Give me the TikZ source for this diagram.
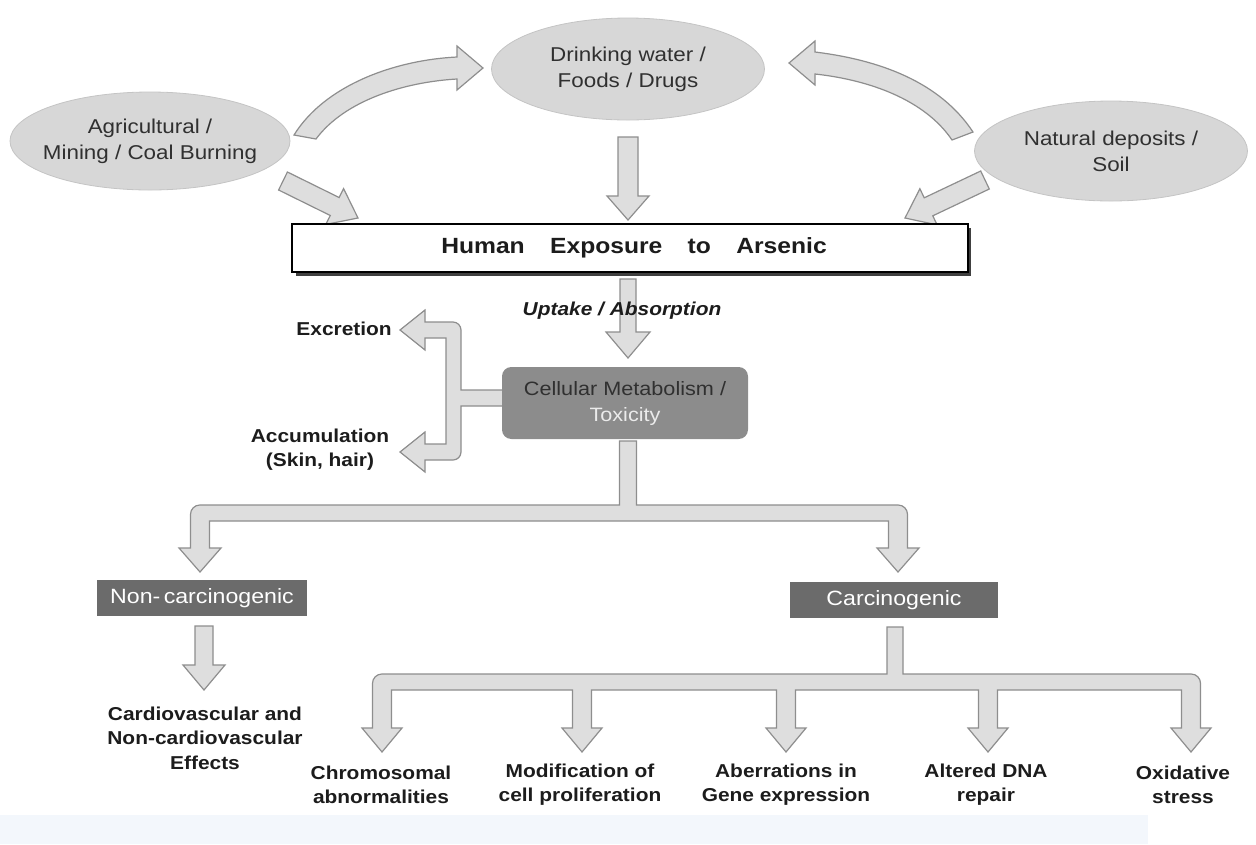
\documentclass[tikz,border=0pt]{standalone}
\usepackage{fontspec}
\setmainfont{Liberation Sans}[FakeStretch=1.12]
\usetikzlibrary{shapes.geometric}
\definecolor{ellfill}{HTML}{D7D7D7}
\definecolor{ellline}{HTML}{C4C4C4}
\definecolor{arrfill}{HTML}{DEDEDE}
\definecolor{arrline}{HTML}{8E8E8E}
\definecolor{midbox}{HTML}{8C8C8C}
\definecolor{darkbox}{HTML}{6B6B6B}
\definecolor{txt}{HTML}{1C1C1C}
\definecolor{elltxt}{HTML}{303030}
\definecolor{band}{HTML}{F3F7FC}
\begin{document}
\begin{tikzpicture}[x=0.75pt,y=-0.75pt,
  ell/.style={ellipse, fill=ellfill, draw=ellline, line width=0.6pt, inner sep=0pt},
  elltext/.style={align=center, text=elltxt, font=\fontsize{15}{19.5}\selectfont, inner sep=0pt},
  blk/.style={fill=arrfill, draw=arrline, line width=0.9pt, line join=miter},
  lbl/.style={align=center, text=txt, font=\fontsize{14}{18}\selectfont\bfseries, inner sep=0pt},
  graybox/.style={fill=darkbox, text=white, font=\fontsize{15.5}{18}\selectfont, inner sep=0pt}
]
\useasboundingbox (0,0) rectangle (1256,844);
\fill[band] (0,815) rectangle (1148,844);

% ellipses
\node[ell, minimum width=204.75pt, minimum height=76.5pt] (drink) at (628,69) {};
\node[elltext] (drinkt) at (drink.center) {Drinking water /\\Foods / Drugs};
\node[ell, minimum width=210pt, minimum height=73.5pt] (agri) at (150,141) {};
\node[elltext] (agrit) at (agri.center) {Agricultural /\\Mining / Coal Burning};
\node[ell, minimum width=204.75pt, minimum height=75pt] (natural) at (1111,151) {};
\node[elltext] (naturalt) at (natural.center) {Natural deposits /\\Soil};

% curved arrows
\path[blk] (294,135) .. controls (325,85) and (395,60) .. (457,57) -- (457,46) -- (483,68) -- (457,90) -- (457,79)
  .. controls (405,82) and (345,100) .. (316,139) -- cycle;
\path[blk] (973,132) .. controls (940,82) and (880,60) .. (815,52) -- (815,41) -- (789,63) -- (815,85) -- (815,74)
  .. controls (870,80) and (925,100) .. (952,140) -- cycle;

% diagonal arrows
\path[blk] (287.4,172.0) -- (339.1,197.5) -- (343.6,188.6) -- (358,218) -- (325.8,224.4) -- (330.3,215.5) -- (278.6,190.0) -- cycle;
\path[blk] (980.7,171.0) -- (924.2,197.8) -- (919.9,188.7) -- (905,218) -- (937.1,224.9) -- (932.8,215.8) -- (989.3,189.0) -- cycle;

% down arrow from drinking water
\path[blk] (618,137) -- (618,196) -- (607,196) -- (628,220) -- (649,196) -- (638,196) -- (638,137) -- cycle;

% human exposure box
\fill[black!75] (296,228) rectangle (971,276);
\node[draw=black, fill=white, line width=1pt, minimum width=507pt, minimum height=36pt, inner sep=0pt] (human) at (630,248) {};
\node[text=txt, font=\fontsize{16.5}{18}\selectfont\bfseries, inner sep=0pt] (humant) at (634,248)
  {Human\hspace{19pt}Exposure\hspace{19pt}to\hspace{19pt}Arsenic};

% uptake arrow
\path[blk] (620,279) -- (620,332) -- (606,332) -- (628,358) -- (650,332) -- (636,332) -- (636,279) -- cycle;
\node[text=txt, font=\fontsize{14}{18}\selectfont\bfseries\itshape, inner sep=0pt] (uptake) at (622,311) {Uptake / Absorption};

% left branch (excretion / accumulation)
\path[blk] (504,390) -- (461,390) [rounded corners=6] -- (461,322) [sharp corners] -- (425,322) -- (425,310) -- (400,330) -- (425,350) -- (425,338)
  -- (446,338) -- (446,444) -- (425,444) -- (425,432) -- (400,452) -- (425,472) -- (425,460) [rounded corners=6] -- (461,460)
  [sharp corners] -- (461,406) -- (504,406) -- cycle;

% cellular metabolism
\node[fill=midbox, rounded corners=7pt, minimum width=184.5pt, minimum height=54pt, inner sep=0pt,
  align=center, font=\fontsize{14.5}{19.5}\selectfont] (cell) at (625,403)
  {\textcolor{elltxt}{Cellular Metabolism /}\\\textcolor{white!92!black}{Toxicity}};

\node[lbl, anchor=east] (excr) at (392,329) {Excretion};
\node[lbl] (accum) at (320,450) {Accumulation\\(Skin, hair)};

% fork to non-carcinogenic / carcinogenic
\path[blk] (619.5,441) -- (619.5,505) [rounded corners=7] -- (190.5,505) [sharp corners] -- (190.5,548) -- (179,548) -- (200,572)
  -- (221,548) -- (209.5,548) -- (209.5,521) -- (888.5,521) -- (888.5,548) -- (877,548) -- (898,572) -- (919,548)
  -- (907.5,548) [rounded corners=7] -- (907.5,505) [sharp corners] -- (636.5,505) -- (636.5,441) -- cycle;

\node[graybox, minimum width=157.5pt, minimum height=26.5pt] (noncarc) at (202,598) {Non-\,carcinogenic};
\node[graybox, minimum width=156pt, minimum height=27pt] (carc) at (894,600) {Carcinogenic};

% non-carcinogenic down arrow
\path[blk] (195,626) -- (195,665) -- (183,665) -- (204,690) -- (225,665) -- (213,665) -- (213,626) -- cycle;
\node[lbl, font=\fontsize{14}{18.4}\selectfont\bfseries] (cardio) at (205,738) {Cardiovascular and\\Non-cardiovascular\\Effects};

% carcinogenic fork
\path[blk] (887,627) -- (887,674) [rounded corners=7] -- (372.5,674) [sharp corners]
  -- (372.5,728) -- (362,728) -- (382,752) -- (402,728) -- (391.5,728) -- (391.5,690)
  -- (572.5,690) -- (572.5,728) -- (562,728) -- (582,752) -- (602,728) -- (591.5,728) -- (591.5,690)
  -- (776.5,690) -- (776.5,728) -- (766,728) -- (786,752) -- (806,728) -- (795.5,728) -- (795.5,690)
  -- (978.5,690) -- (978.5,728) -- (968,728) -- (988,752) -- (1008,728) -- (997.5,728) -- (997.5,690)
  -- (1181.5,690) -- (1181.5,728) -- (1171,728) -- (1191,752) -- (1211,728) -- (1200.5,728)
  [rounded corners=7] -- (1200.5,674) [sharp corners] -- (903,674) -- (903,627) -- cycle;

\node[lbl] (chrom) at (381,785) {Chromosomal\\abnormalities};
\node[lbl] (modif) at (580,785) {Modification of\\cell proliferation};
\node[lbl] (aberr) at (786,785) {Aberrations in\\Gene expression};
\node[lbl] (dna) at (986,785) {Altered DNA\\repair};
\node[lbl] (oxid) at (1183,785) {Oxidative\\stress};
\end{tikzpicture}
\end{document}
